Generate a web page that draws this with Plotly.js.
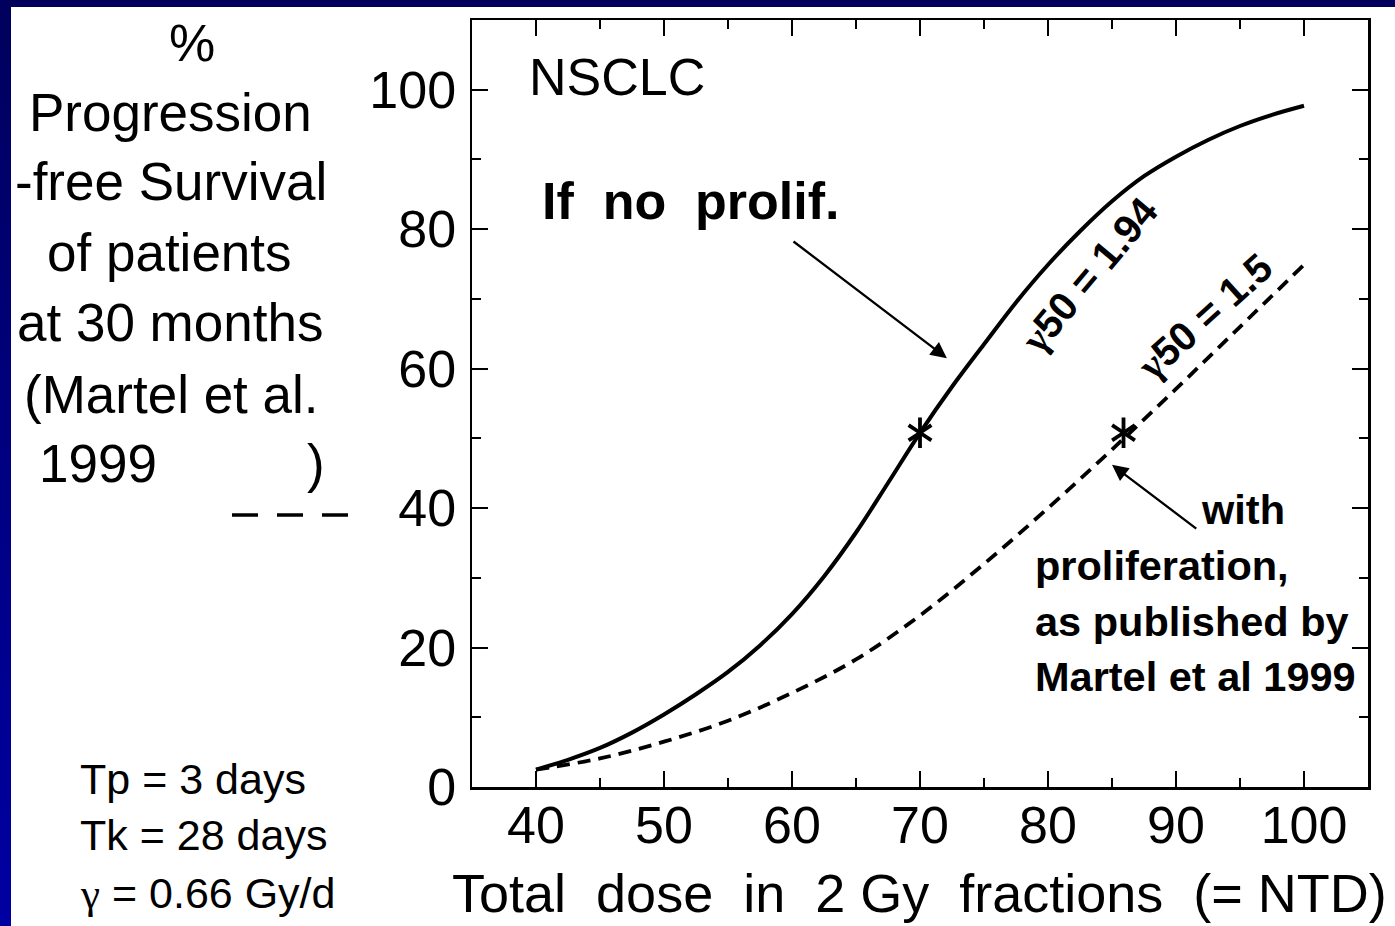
<!DOCTYPE html>
<html>
<head>
<meta charset="utf-8">
<script src="https://cdn.plot.ly/plotly-3.0.1.min.js"></script>
<style>
  html, body { margin: 0; padding: 0; width: 1395px; height: 926px; overflow: hidden;
    background: linear-gradient(to bottom, #00005c 0%, #000088 60%, #0000a2 100%); }
  #chart { position: absolute; left: 11px; top: 7px; width: 1384px; height: 919px; background: #fff; }
</style>
</head>
<body>
<div id="chart"></div>
<script>
// ---- data ----
const doseA = [40, 42.5, 45, 47.5, 50, 52.5, 55, 57.5, 60, 62.5, 65, 67.5, 70, 72.5, 75, 77.5, 80, 82.5, 85, 87.5, 90, 92.5, 95, 97.5, 100];
const noProlif = [2.5, 3.9, 5.6, 7.8, 10.4, 13.3, 16.5, 20.3, 24.8, 30.2, 36.5, 43.6, 50.8, 57.4, 63.5, 69.5, 74.9, 79.7, 84.0, 87.6, 90.4, 92.8, 94.8, 96.4, 97.7];
const doseB = [40, 45, 50, 55, 60, 65, 70, 75, 80, 85, 90, 95, 100];
const withProlif = [2.5, 4.1, 6.5, 9.5, 13.5, 18.3, 24.6, 32.0, 40.0, 48.4, 57.1, 66.0, 74.9];
const halfDose = [70, 85.9];
const halfResp = [50.8, 50.8];
const xTicks = [40, 50, 60, 70, 80, 90, 100];
const yTicks = [0, 20, 40, 60, 80, 100];

// ---- pixel helpers for annotations (page coordinates) ----
const OX = 11, OY = 7;
const L = 472, R = 1368, T = 20, B = 787;
const W = R - L, H = B - T;
const px = x => (x - L) / W;
const py = y => (B - y) / H;
const FONT = 'Liberation Sans, Arial, Helvetica, sans-serif';
const SERIF = 'Liberation Serif, Times New Roman, serif';

function txt(text, x, y, size, opts) {
  return Object.assign({
    text: text, xref: 'paper', yref: 'paper', x: px(x), y: py(y),
    xanchor: 'center', yanchor: 'middle', showarrow: false,
    font: { family: FONT, size: size, color: '#000' }
  }, opts || {});
}
const NB = '\u00A0';
const G = '<span style="font-family:' + SERIF + '">γ</span>';

const traces = [
  { x: doseA, y: noProlif, type: 'scatter', mode: 'lines', name: 'If no prolif.',
    line: { color: '#000', width: 4, shape: 'spline', smoothing: 1 }, hoverinfo: 'skip' },
  { x: doseB, y: withProlif, type: 'scatter', mode: 'lines', name: 'with proliferation',
    line: { color: '#000', width: 3.8, dash: '13px,8px', shape: 'spline', smoothing: 1 }, hoverinfo: 'skip' },
  { x: halfDose, y: halfResp, type: 'scatter', mode: 'markers', name: 'D50',
    marker: { symbol: 'y-up-open', size: 19, color: '#000', line: { color: '#000', width: 3.8 } }, hoverinfo: 'skip' },
  { x: halfDose, y: halfResp, type: 'scatter', mode: 'markers', name: 'D50b',
    marker: { symbol: 'y-down-open', size: 19, color: '#000', line: { color: '#000', width: 3.8 } }, hoverinfo: 'skip' }
];

const annotations = [
  // left block (y-axis title)
  txt('%', 192, 43, 52),
  txt('Progression', 170, 113, 53),
  txt('-free Survival', 171, 182, 53),
  txt('of patients', 169, 252, 53),
  txt('at 30 months', 170, 323, 53),
  txt('(Martel et al.', 171, 394, 53),
  txt('1999', 37, 463, 53, { xanchor: 'left' }),
  txt(')', 316, 463, 53),
  // parameters
  txt('Tp = 3 days', 78, 779, 43, { xanchor: 'left' }),
  txt('Tk = 28 days', 78, 835, 43, { xanchor: 'left' }),
  txt(G + ' = 0.66 Gy/d', 78, 893, 43, { xanchor: 'left' }),
  // x title
  txt('Total' + NB + NB + 'dose' + NB + NB + 'in' + NB + NB + '2 Gy' + NB + NB + 'fractions' + NB + NB + '(= NTD)', 919, 893, 54),
  // in-plot labels
  txt('NSCLC', 527, 77, 52, { xanchor: 'left' }),
  txt('<b>If' + NB + NB + 'no' + NB + NB + 'prolif.</b>', 540, 201, 52, { xanchor: 'left' }),
  txt('<b>' + G + '50 = 1.94</b>', 1089, 275, 40, { textangle: -50 }),
  txt('<b>' + G + '50 = 1.5</b>', 1204, 317, 40, { textangle: -42 }),
  txt('<b>with</b>', 1287, 509, 41.5, { xanchor: 'right' }),
  txt('<b>proliferation,</b>', 1033, 565, 41.5, { xanchor: 'left' }),
  txt('<b>as published by</b>', 1033, 621, 41.5, { xanchor: 'left' }),
  txt('<b>Martel et al 1999</b>', 1033, 676, 41.5, { xanchor: 'left' }),
  // arrows
  { xref: 'x', yref: 'y', axref: 'x', ayref: 'y', x: 72.1, y: 61.5, ax: 60.0, ay: 78.4, text: '',
    showarrow: true, arrowhead: 2, arrowsize: 1.4, arrowwidth: 2.3, arrowcolor: '#000', standoff: 0 },
  { xref: 'x', yref: 'y', axref: 'x', ayref: 'y', x: 85.0, y: 46.2, ax: 91.7, ay: 36.9, text: '',
    showarrow: true, arrowhead: 2, arrowsize: 1.4, arrowwidth: 2.3, arrowcolor: '#000', standoff: 0 }
];

const shapes = [
  { type: 'line', xref: 'paper', yref: 'paper', x0: px(232), x1: px(350), y0: py(515), y1: py(515),
    line: { color: '#000', width: 3.5, dash: '26px,19px' } }
];

const axisCommon = {
  showline: true, linewidth: 2.5, linecolor: '#000', mirror: 'ticks',
  ticks: 'inside', ticklen: 16, tickwidth: 2, tickcolor: '#000',
  showgrid: false, zeroline: false, fixedrange: true,
  tickfont: { family: FONT, size: 52, color: '#000' }
};

const layout = {
  width: 1384, height: 919,
  margin: { l: L - OX, r: 1384 - (R - OX), t: T - OY, b: 919 - (B - OY), pad: 0 },
  paper_bgcolor: '#fff', plot_bgcolor: '#fff',
  showlegend: false,
  xaxis: Object.assign({}, axisCommon, {
    range: [35, 105], tickvals: xTicks, ticktext: xTicks.map(String), ticklabelstandoff: -9,
    minor: { dtick: 5, tick0: 0, ticks: 'inside', ticklen: 9, tickwidth: 2, tickcolor: '#000' }
  }),
  yaxis: Object.assign({}, axisCommon, {
    range: [0, 110], tickvals: yTicks, ticktext: yTicks.map(String), ticklabelstandoff: 3,
    minor: { dtick: 10, tick0: 0, ticks: 'inside', ticklen: 9, tickwidth: 2, tickcolor: '#000' }
  }),
  annotations: annotations,
  shapes: shapes
};

Plotly.newPlot('chart', traces, layout, { staticPlot: true, displayModeBar: false });
</script>
</body>
</html>
